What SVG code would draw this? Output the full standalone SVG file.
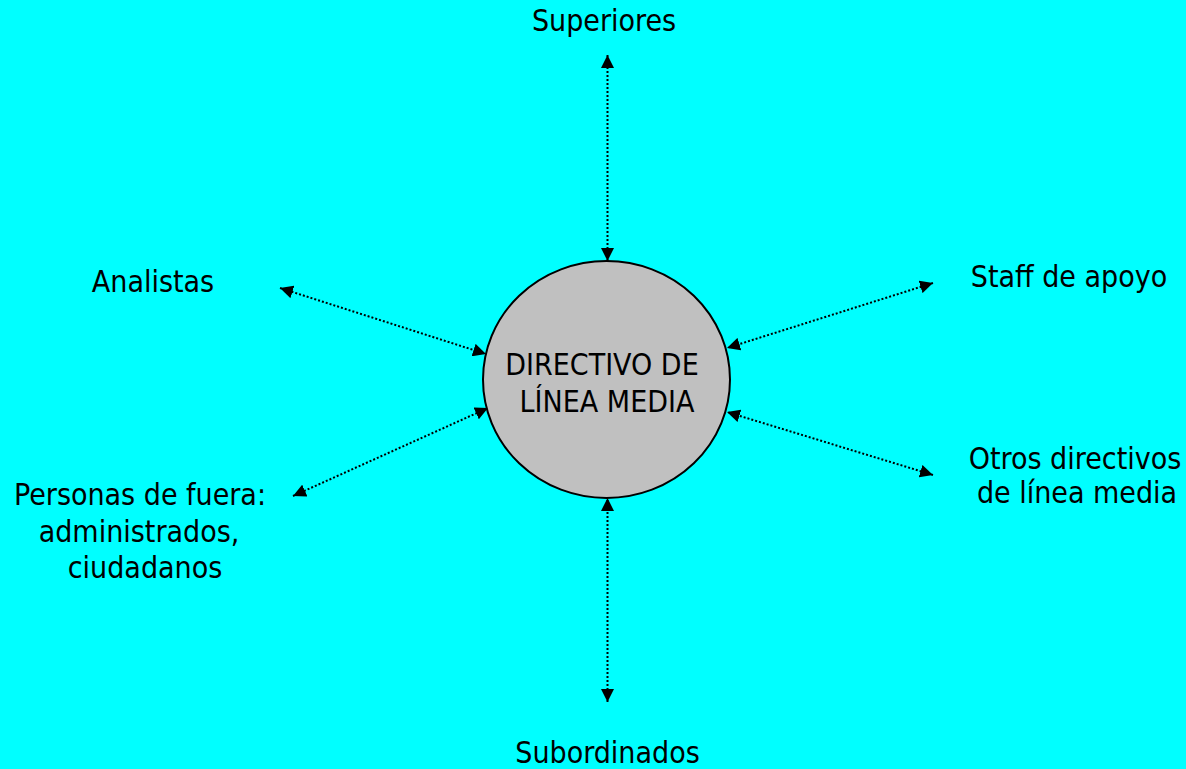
<svg xmlns="http://www.w3.org/2000/svg" width="1186" height="769" viewBox="0 0 1186 769">
<style>
  .lbl { font-family: "DejaVu Sans Condensed", "DejaVu Sans", sans-serif; font-stretch: condensed; font-size: 30px; fill: #000; text-anchor: middle; }
  .conn { stroke: #000; stroke-width: 2; stroke-dasharray: 2 2; fill: none; marker-start: url(#arr); marker-end: url(#arr); }
</style>
<defs>
  <marker id="arr" viewBox="0 0 13 13" refX="13" refY="6.5" markerWidth="13" markerHeight="13" markerUnits="userSpaceOnUse" orient="auto-start-reverse">
    <path d="M0,0 L13,6.5 L0,13 z" fill="#000"/>
  </marker>
</defs>
<rect x="0" y="0" width="1186" height="769" fill="#00FFFF"/>
<g id="connectors">
  <line class="conn" x1="607.5" y1="55" x2="607.5" y2="261"/>
  <line class="conn" x1="607.5" y1="702" x2="607.5" y2="498"/>
  <line class="conn" x1="280" y1="288" x2="486" y2="354"/>
  <line class="conn" x1="293" y1="496" x2="488" y2="408"/>
  <line class="conn" x1="933" y1="283" x2="727" y2="348"/>
  <line class="conn" x1="933" y1="475" x2="727" y2="412"/>
</g>
<g id="center">
  <ellipse cx="606.5" cy="379.5" rx="123.5" ry="118.5" fill="#C0C0C0" stroke="#000" stroke-width="2"/>
  <text class="lbl" x="602" y="375">DIRECTIVO DE</text>
  <text class="lbl" x="607" y="412">LÍNEA MEDIA</text>
</g>
<g id="superiores"><text class="lbl" x="604" y="31">Superiores</text></g>
<g id="analistas"><text class="lbl" x="153" y="292">Analistas</text></g>
<g id="staff"><text class="lbl" x="1069" y="287">Staff de apoyo</text></g>
<g id="otros">
  <text class="lbl" x="1075" y="469">Otros directivos</text>
  <text class="lbl" x="1077" y="503">de línea media</text>
</g>
<g id="personas">
  <text class="lbl" x="140" y="505">Personas de fuera:</text>
  <text class="lbl" x="139" y="542">administrados,</text>
  <text class="lbl" x="145" y="578">ciudadanos</text>
</g>
<g id="subordinados"><text class="lbl" x="607.5" y="763">Subordinados</text></g>
</svg>
